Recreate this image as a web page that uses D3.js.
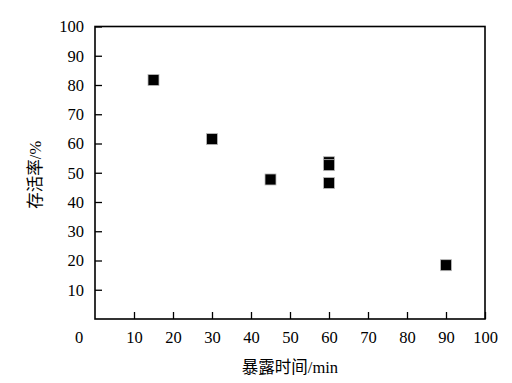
<!DOCTYPE html>
<html>
<head>
<meta charset="utf-8">
<script src="https://cdn.jsdelivr.net/npm/d3@7"></script>
<style>
body { margin: 0; background: #fff; }
text { font-family: "Liberation Serif", "Times New Roman", "Noto Sans CJK SC", serif; fill: #000; }
</style>
</head>
<body>
<div id="chart"></div>
<script>
// exposure time (min) and survival rate (%)
var exposure = [15, 30, 45, 60, 60, 60, 90];
var survival = [81.7, 61.5, 47.7, 53.6, 52.6, 46.5, 18.4];
var xTicks = [10, 20, 30, 40, 50, 60, 70, 80, 90, 100];
var yTicks = [10, 20, 30, 40, 50, 60, 70, 80, 90, 100];
var xTitle = '暴露时间/min';
var yTitle = '存活率/%';

var svgWidth = 512, svgHeight = 383;
var margin = {top: 26.5, right: 27, bottom: 64, left: 95};
var width = svgWidth - margin.left - margin.right;
var height = svgHeight - margin.top - margin.bottom;

var svg = d3.select('#chart').append('svg')
    .attr('width', svgWidth).attr('height', svgHeight);
var g = svg.append('g')
    .attr('transform', `translate(${margin.left},${margin.top})`);

var x = d3.scaleLinear().domain([0, 100]).range([0, width]);
var y = d3.scaleLinear().domain([0, 100]).range([height, 0]);

// inward ticks
var xAxis = g.append('g')
    .attr('transform', `translate(0,${height})`)
    .call(d3.axisBottom(x).tickValues(xTicks).tickSizeInner(-7).tickSizeOuter(0));
var yAxis = g.append('g')
    .call(d3.axisLeft(y).tickValues(yTicks).tickSizeInner(-7).tickSizeOuter(0));

[xAxis, yAxis].forEach(function(a) {
    a.select('.domain').remove();
    a.selectAll('line').attr('stroke', '#000').attr('stroke-width', 1.3);
    a.selectAll('text').style('font-size', '16.5px').attr('fill', '#000');
});
xAxis.selectAll('text').attr('dy', '0.32em').attr('y', 18.5);
yAxis.selectAll('text').attr('x', -11);

// frame
g.append('rect')
    .attr('x', 0).attr('y', 0)
    .attr('width', width).attr('height', height)
    .attr('fill', 'none').attr('stroke', '#000').attr('stroke-width', 1.6);

// origin label
g.append('text')
    .attr('x', x(0) - 16).attr('y', height + 18.5)
    .attr('text-anchor', 'middle')
    .attr('dy', '0.32em')
    .style('font-size', '16.5px')
    .text('0');

// points
var s = 11;
g.selectAll('rect.pt')
    .data(exposure)
    .enter()
    .append('rect')
    .attr('class', 'pt')
    .attr('x', (d, i) => x(d) - s / 2)
    .attr('y', (d, i) => y(survival[i]) - s / 2)
    .attr('width', s).attr('height', s)
    .attr('fill', '#000')
    .attr('stroke', '#bbb').attr('stroke-width', 0.8);

// titles
g.append('text')
    .attr('x', width / 2).attr('y', height + 54)
    .attr('text-anchor', 'middle')
    .style('font-size', '16.5px')
    .text(xTitle);

g.append('text')
    .attr('transform', `translate(${35 - margin.left + 6},${height / 2 + 2}) rotate(-90)`)
    .attr('text-anchor', 'middle')
    .style('font-size', '16.5px')
    .text(yTitle);
</script>
</body>
</html>
